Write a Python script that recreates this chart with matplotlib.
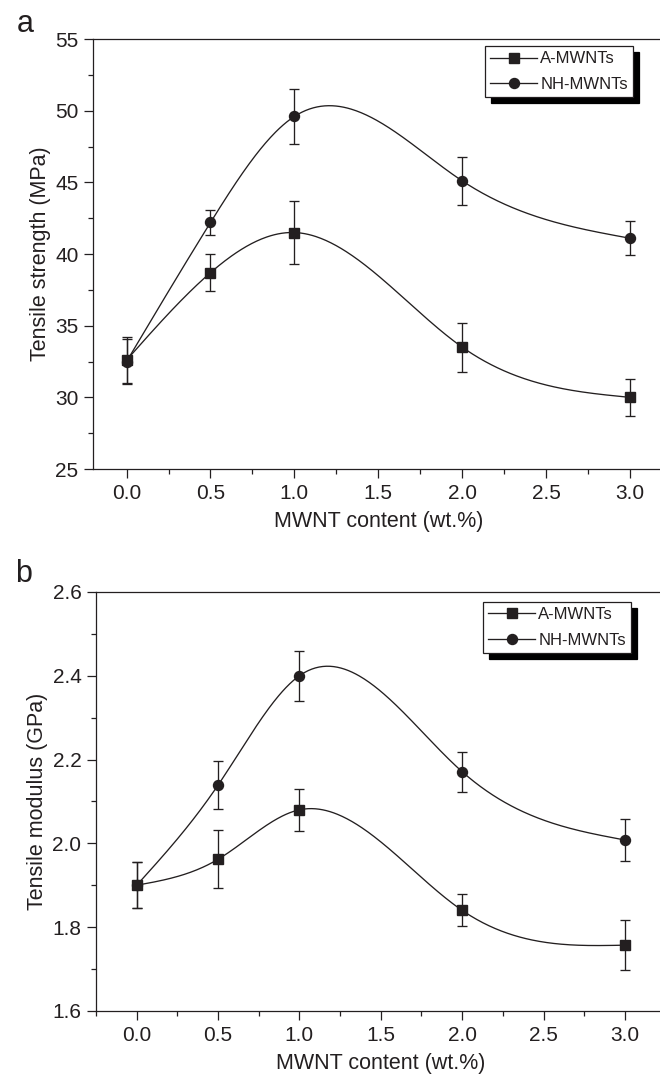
import numpy as np
import matplotlib
matplotlib.use('Agg')
import matplotlib.pyplot as plt
from matplotlib.lines import Line2D
from matplotlib.ticker import MultipleLocator, FormatStrFormatter

plt.rcParams['font.family'] = ['Liberation Sans', 'DejaVu Sans']

# MWNT content (wt.%)
content = [0.0, 0.5, 1.0, 2.0, 3.0]
series_names = ['A-MWNTs', 'NH-MWNTs']

# panel a: tensile strength (MPa)
strength_a = [32.6, 38.7, 41.5, 33.5, 30.0]
strength_a_err = [1.6, 1.3, 2.2, 1.7, 1.3]
strength_nh = [32.5, 42.2, 49.6, 45.1, 41.1]
strength_nh_err = [1.6, 0.9, 1.9, 1.65, 1.2]

# panel b: tensile modulus (GPa)
modulus_a = [1.90, 1.962, 2.080, 1.840, 1.757]
modulus_a_err = [0.055, 0.069, 0.050, 0.038, 0.060]
modulus_nh = [1.90, 2.139, 2.400, 2.171, 2.008]
modulus_nh_err = [0.055, 0.058, 0.060, 0.048, 0.050]

INK = '#231f20'


def natural_spline(x, y, n=400):
    """natural cubic spline through the points"""
    x = np.asarray(x, float)
    y = np.asarray(y, float)
    k = len(x)
    h = np.diff(x)
    A = np.zeros((k, k))
    r = np.zeros(k)
    A[0, 0] = 1
    A[-1, -1] = 1
    for i in range(1, k - 1):
        A[i, i - 1] = h[i - 1]
        A[i, i] = 2 * (h[i - 1] + h[i])
        A[i, i + 1] = h[i]
        r[i] = 6 * ((y[i + 1] - y[i]) / h[i] - (y[i] - y[i - 1]) / h[i - 1])
    m = np.linalg.solve(A, r)
    xs = np.linspace(x[0], x[-1], n)
    ys = np.empty_like(xs)
    for j, xv in enumerate(xs):
        i = min(np.searchsorted(x, xv, side='right') - 1, k - 2)
        t0 = x[i + 1] - xv
        t1 = xv - x[i]
        ys[j] = (m[i] * t0**3 + m[i + 1] * t1**3) / (6 * h[i]) \
            + (y[i] / h[i] - m[i] * h[i] / 6) * t0 \
            + (y[i + 1] / h[i] - m[i + 1] * h[i] / 6) * t1
    return xs, ys


def draw_panel(ax, ya, ea, yn, en, ylabel, ylim, ymaj, ymin, fmt, xlim):
    for y, e, mk, ms in [(ya, ea, 's', 6.5), (yn, en, 'o', 7.2)]:
        xs, ys = natural_spline(content, y)
        ax.plot(xs, ys, color=INK, lw=0.95, zorder=2)
        ax.errorbar(content, y, yerr=e, fmt='none', ecolor=INK,
                    elinewidth=0.95, capsize=3.3, capthick=0.95, zorder=3)
        ax.plot(content, y, mk, color=INK, ms=ms, zorder=4)

    ax.set_xlim(*xlim)
    ax.set_ylim(*ylim)
    ax.xaxis.set_major_locator(MultipleLocator(0.5))
    ax.xaxis.set_minor_locator(MultipleLocator(0.25))
    ax.xaxis.set_major_formatter(FormatStrFormatter('%.1f'))
    ax.yaxis.set_major_locator(MultipleLocator(ymaj))
    ax.yaxis.set_minor_locator(MultipleLocator(ymin))
    ax.yaxis.set_major_formatter(FormatStrFormatter(fmt))
    ax.tick_params(which='both', direction='out', color=INK, width=0.9,
                   labelsize=15, labelcolor=INK, top=False, right=False)
    ax.tick_params(which='major', length=6.5, pad=4)
    ax.tick_params(which='minor', length=3.6)
    for s in ax.spines.values():
        s.set_color(INK)
        s.set_linewidth(0.9)
    ax.set_xlabel('MWNT content (wt.%)', fontsize=15.5, color=INK, labelpad=6)
    ax.set_ylabel(ylabel, fontsize=15.5, color=INK, labelpad=3)


def add_legend(fig, ax, anchor):
    handles = [Line2D([], [], color=INK, lw=0.95, marker='s', ms=6.5),
               Line2D([], [], color=INK, lw=0.95, marker='o', ms=7.2)]
    leg = ax.legend(handles, series_names, loc='upper left',
                    bbox_to_anchor=anchor, bbox_transform=fig.transFigure,
                    fontsize=12, frameon=True, fancybox=False,
                    shadow={'ox': 4, 'oy': -4, 'color': 'black', 'alpha': 1},
                    borderpad=0.32, labelspacing=0.62, handlelength=2.8,
                    handletextpad=0.2, borderaxespad=0)
    leg.get_frame().set_edgecolor(INK)
    leg.get_frame().set_linewidth(0.9)
    for t in leg.get_texts():
        t.set_color(INK)


fig = plt.figure(figsize=(6.6, 10.78), dpi=100)
ax1 = fig.add_axes([0.1409, 0.5649, 0.8647, 0.3989])
ax2 = fig.add_axes([0.1455, 0.0622, 0.8629, 0.3887])

draw_panel(ax1, strength_a, strength_a_err, strength_nh, strength_nh_err,
           'Tensile strength (MPa)', (25, 55), 5, 2.5, '%d', (-0.2, 3.2))
draw_panel(ax2, modulus_a, modulus_a_err, modulus_nh, modulus_nh_err,
           'Tensile modulus (GPa)', (1.6, 2.6), 0.2, 0.1, '%.1f', (-0.25, 3.25))

add_legend(fig, ax1, (0.7348, 0.9573))
add_legend(fig, ax2, (0.7318, 0.4416))

fig.text(0.0379, 0.9706, 'a', fontsize=22, color=INK, ha='center', va='baseline')
fig.text(0.0354, 0.4604, 'b', fontsize=22, color=INK, ha='center', va='baseline')

fig.savefig('out.png', dpi=100)
